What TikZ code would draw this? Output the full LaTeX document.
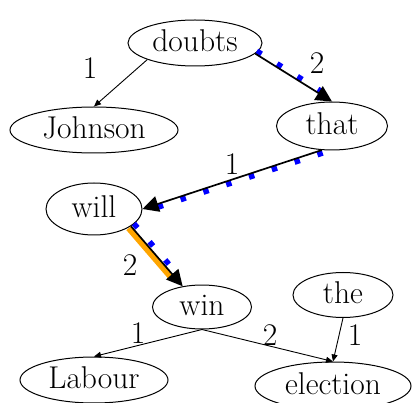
\documentclass[tikz,border=0pt]{standalone}
\usepackage{fontspec}
\usetikzlibrary{shapes.geometric,arrows.meta}
\definecolor{dotblue}{RGB}{0,0,255}
\definecolor{hlorange}{RGB}{255,165,0}
\tikzset{
  nd/.style={ellipse, draw, line width=1pt, inner sep=0pt, font=\fontsize{31.5}{38}\selectfont, text height=21pt, text depth=4pt},
  lbl/.style={font=\fontsize{31.5}{38}\selectfont, inner sep=0pt},
  thinedge/.style={line width=0.9pt, -{Triangle[length=7pt,width=6pt]}},
  thickedge/.style={line width=1.7pt, -{Triangle[length=16pt,width=16pt]}},
  bluedots/.style={dotblue, line width=5.5pt, dash pattern=on 5.5pt off 18.5pt, shorten >=15pt},
  orangeline/.style={hlorange, line width=6pt, shorten >=13pt}
}
\begin{document}
\begin{tikzpicture}[x=1pt,y=-1pt]
\path[use as bounding box] (0,0) rectangle (412,403);
\node[nd, minimum width=134pt, minimum height=46pt] (doubts) at (195,43) {doubts};
\node[nd, minimum width=168pt, minimum height=46pt] (johnson) at (94,130) {Johnson};
\node[nd, minimum width=111pt, minimum height=48pt] (that) at (332,126) {that};
\node[nd, minimum width=96pt, minimum height=52pt] (will) at (94,209) {will};
\node[nd, minimum width=99pt, minimum height=44pt] (win) at (202,307) {win};
\node[nd, minimum width=100pt, minimum height=45pt] (the) at (343,295) {the};
\node[nd, minimum width=148pt, minimum height=46pt] (labour) at (94,380) {Labour};
\node[nd, minimum width=156pt, minimum height=48pt] (election) at (333,386) {election};

% highlight layers
\draw[orangeline, transform canvas={shift={(-2.2pt,-2pt)}}] (will.-25) -- (win.133);
\draw[bluedots, transform canvas={shift={(1.6pt,2.5pt)}}] (doubts.-10) -- (that.north);
\draw[bluedots, transform canvas={shift={(0.9pt,-2.9pt)}}] (that.-113) -- (will.east);
\draw[bluedots, transform canvas={shift={(3pt,2.6pt)}}] (will.-25) -- (win.133);

% edges
\draw[thinedge] (doubts.south west) -- (johnson.north);
\draw[thickedge] (doubts.-10) -- (that.north);
\draw[thickedge] (that.-113) -- (will.east);
\draw[thickedge] (will.-25) -- (win.133);
\draw[thinedge] (win.south) -- (labour.north);
\draw[thinedge] (win.south) -- (election.north);
\draw[thinedge] (the.south) -- (election.north);

% labels
\node[lbl] (l1) at (90,68) {1};
\node[lbl] (l2) at (317,63) {2};
\node[lbl] (l3) at (232,164) {1};
\node[lbl] (l4) at (130,265) {2};
\node[lbl] (l5) at (138,333) {1};
\node[lbl] (l6) at (270,335) {2};
\node[lbl] (l7) at (355,335) {1};
\end{tikzpicture}
\end{document}
